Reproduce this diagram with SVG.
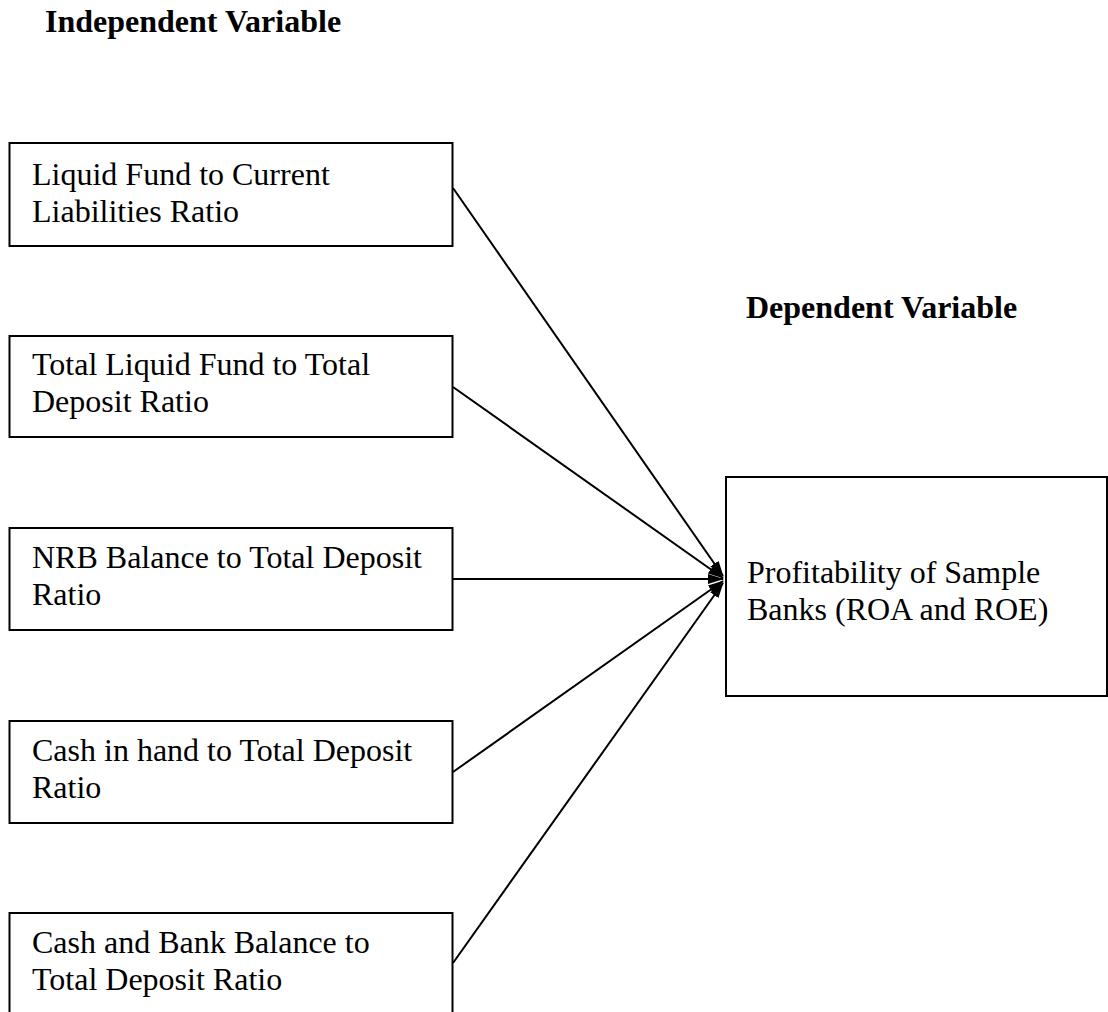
<svg xmlns="http://www.w3.org/2000/svg" width="1108" height="1012" viewBox="0 0 1108 1012">
<style>
.box{fill:#fff;stroke:#000;stroke-width:2}
.t{font-family:"Liberation Serif","Times New Roman",serif;font-size:32px;fill:#000}
.h{font-family:"Liberation Serif","Times New Roman",serif;font-size:32px;font-weight:bold;fill:#000}
.c{stroke:#000;stroke-width:2;fill:none}
</style>
<defs>
<marker id="ah" markerWidth="16" markerHeight="10" refX="15" refY="5" orient="auto" markerUnits="userSpaceOnUse">
<path d="M0,0 L16,5 L0,10 Z" fill="#000"/>
</marker>
</defs>
<rect width="1108" height="1012" fill="#fff"/>
<text class="h" x="45" y="32">Independent Variable</text>
<text class="h" x="746" y="318">Dependent Variable</text>
<g id="connectors">
<line class="c" x1="453" y1="188" x2="723" y2="576" marker-end="url(#ah)"/>
<line class="c" x1="453" y1="387" x2="723" y2="578" marker-end="url(#ah)"/>
<line class="c" x1="453" y1="579" x2="723" y2="579" marker-end="url(#ah)"/>
<line class="c" x1="453" y1="772" x2="723" y2="581" marker-end="url(#ah)"/>
<line class="c" x1="453" y1="963" x2="723" y2="583" marker-end="url(#ah)"/>
</g>
<g id="n1">
<rect class="box" x="9.5" y="143" width="443" height="103"/>
<text class="t" x="32" y="185">Liquid Fund to Current</text>
<text class="t" x="32" y="222">Liabilities Ratio</text>
</g>
<g id="n2">
<rect class="box" x="9.5" y="336" width="443" height="101"/>
<text class="t" x="32" y="375">Total Liquid Fund to Total</text>
<text class="t" x="32" y="412">Deposit Ratio</text>
</g>
<g id="n3">
<rect class="box" x="9.5" y="528" width="443" height="102"/>
<text class="t" x="32" y="568">NRB Balance to Total Deposit</text>
<text class="t" x="32" y="605">Ratio</text>
</g>
<g id="n4">
<rect class="box" x="9.5" y="721" width="443" height="102"/>
<text class="t" x="32" y="761">Cash in hand to Total Deposit</text>
<text class="t" x="32" y="798">Ratio</text>
</g>
<g id="n5">
<rect class="box" x="9.5" y="913" width="443" height="110"/>
<text class="t" x="32" y="953">Cash and Bank Balance to</text>
<text class="t" x="32" y="990">Total Deposit Ratio</text>
</g>
<g id="dep">
<rect class="box" x="726" y="477" width="381" height="219"/>
<text class="t" x="747" y="583">Profitability of Sample</text>
<text class="t" x="747" y="620">Banks (ROA and ROE)</text>
</g>
</svg>
